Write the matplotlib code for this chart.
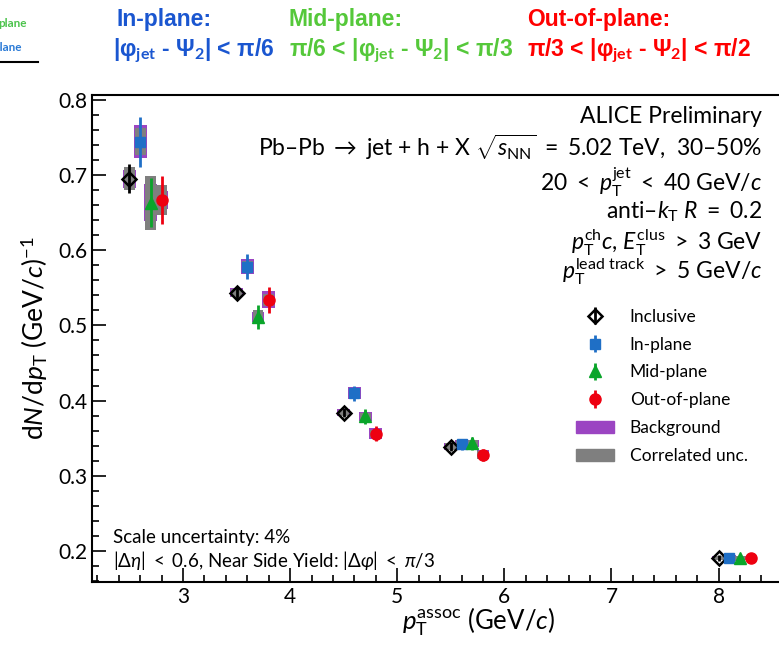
import numpy as np
import matplotlib
matplotlib.use("Agg")
import matplotlib.pyplot as plt
from matplotlib.patches import Patch

plt.rcParams['font.family'] = ['Lato', 'DejaVu Sans']
plt.rcParams['mathtext.fontset'] = 'custom'
plt.rcParams['mathtext.rm'] = 'Lato'
plt.rcParams['mathtext.it'] = 'Lato:italic'
plt.rcParams['mathtext.bf'] = 'Lato:bold'
plt.rcParams['mathtext.sf'] = 'Lato'

# data
x_incl = [2.5, 3.5, 4.5, 5.5, 8.0]
x_in = [2.6, 3.6, 4.6, 5.6, 8.1]
x_mid = [2.7, 3.7, 4.7, 5.7, 8.2]
x_out = [2.8, 3.8, 4.8, 5.8, 8.3]

y_incl = [0.695, 0.543, 0.384, 0.339, 0.191]
y_in = [0.744, 0.578, 0.410, 0.342, 0.191]
y_mid = [0.663, 0.511, 0.379, 0.343, 0.191]
y_out = [0.666, 0.534, 0.356, 0.328, 0.191]

stat_incl = [0.019, 0.008, 0.006, 0.006, 0.004]
stat_in = [0.033, 0.017, 0.010, 0.007, 0.004]
stat_mid = [0.033, 0.016, 0.010, 0.008, 0.004]
stat_out = [0.032, 0.017, 0.010, 0.008, 0.004]

bkg_incl = [0.012, 0.006, 0.005, 0.005, 0.003]
bkg_in = [0.022, 0.010, 0.008, 0.006, 0.004]
bkg_mid = [0.025, 0.007, 0.006, 0.005, 0.003]
bkg_out = [0.012, 0.011, 0.007, 0.006, 0.003]

corr_incl = [0.015, 0.005, 0.004, 0.004, 0.003]
corr_in = [0.018, 0.008, 0.006, 0.005, 0.003]
corr_mid = [0.036, 0.009, 0.005, 0.004, 0.003]
corr_out = [0.020, 0.008, 0.005, 0.005, 0.003]

c_in = '#1f6fc6'
c_mid = '#0aa52a'
c_out = '#ee0010'
c_bkg = '#9b45c2'
c_corr = '#7f7f7f'

fig = plt.figure(figsize=(7.79, 6.45), dpi=100)
ax = fig.add_axes([0.118, 0.0977, 0.887, 0.755])

series = [
    (x_incl, y_incl, stat_incl, bkg_incl, corr_incl),
    (x_in, y_in, stat_in, bkg_in, corr_in),
    (x_mid, y_mid, stat_mid, bkg_mid, corr_mid),
    (x_out, y_out, stat_out, bkg_out, corr_out),
]
bw = 0.12
for xs, ys, st, bk, co in series:
    xs = np.array(xs); ys = np.array(ys); bk = np.array(bk); co = np.array(co)
    ax.bar(xs, 2 * bk, bottom=ys - bk, width=bw, color=c_bkg, zorder=1)
    ax.bar(xs, 2 * co, bottom=ys - co, width=bw * 0.85, color=c_corr, zorder=2)

h_incl = ax.errorbar(x_incl, y_incl, yerr=stat_incl, fmt='D', color='black', mfc='none',
                     mec='black', mew=1.8, ms=7, elinewidth=2, capsize=0, zorder=5)
h_in = ax.errorbar(x_in, y_in, yerr=stat_in, fmt='s', color=c_in, ms=7.5,
                   elinewidth=2, capsize=0, zorder=5)
h_mid = ax.errorbar(x_mid, y_mid, yerr=stat_mid, fmt='^', color=c_mid, ms=8.5,
                    elinewidth=2, capsize=0, zorder=5)
h_out = ax.errorbar(x_out, y_out, yerr=stat_out, fmt='o', color=c_out, ms=8,
                    elinewidth=2, capsize=0, zorder=5)

ax.set_xlim(2.15, 8.6)
ax.set_ylim(0.159, 0.806)
ax.set_xticks([3, 4, 5, 6, 7, 8])
ax.set_yticks([0.2, 0.3, 0.4, 0.5, 0.6, 0.7, 0.8])
ax.set_xticks(np.arange(2.2, 8.61, 0.2), minor=True)
ax.set_yticks(np.arange(0.16, 0.81, 0.02), minor=True)
ax.tick_params(which='both', direction='in', top=False, right=False, labelsize=15, width=1.2)
ax.tick_params(which='major', length=10)
ax.tick_params(which='minor', length=5)
for s in ax.spines.values():
    s.set_linewidth(1.5)

ax.set_xlabel(r"$p_{\rm T}^{\rm assoc}$ (GeV/$c$)", fontsize=18.5, x=0.56, labelpad=-1)
ax.set_ylabel(r"d$N$/d$p_{\rm T}$ (GeV/$c$)$^{-1}$", fontsize=19, labelpad=6)

lines = [
    "ALICE Preliminary",
    r"Pb–Pb $\rightarrow$ jet + h + X $\sqrt{s_{\rm NN}}\ =\ $5.02 TeV,  30–50%",
    r"$20\ <\ p_{\rm T}^{\rm jet}\ <\ 40$ GeV$/c$",
    r"anti–$k_{\rm T}$ $R\ =\ 0.2$",
    r"$p_{\rm T}^{\rm ch}c$, $E_{\rm T}^{\rm clus}\ >\ 3$ GeV",
    r"$p_{\rm T}^{\rm lead\ track}\ >\ 5$ GeV$/c$",
]
ys_txt = [0.955, 0.893, 0.821, 0.760, 0.696, 0.637]
for t, yy in zip(lines, ys_txt):
    ax.text(0.97, yy, t, transform=ax.transAxes, ha='right', va='center', fontsize=16.5)

ax.text(0.03, 0.092, "Scale uncertainty: 4%", transform=ax.transAxes, fontsize=13.5, va='center')
ax.text(0.03, 0.045,
        r"$|\Delta\eta|\ <\ 0.6$, Near Side Yield: $|\Delta\varphi|\ <\ \pi/3$",
        transform=ax.transAxes, fontsize=13.5, va='center')

handles = [h_incl, h_in, h_mid, h_out, Patch(color=c_bkg), Patch(color=c_corr)]
labels = ["Inclusive", "In-plane", "Mid-plane", "Out-of-plane", "Background", "Correlated unc."]
ax.legend(handles, labels, loc='upper left', bbox_to_anchor=(0.678, 0.593), frameon=False,
          fontsize=12.5, handlelength=2.2, labelspacing=0.68, handletextpad=0.9)

# header
hdr = dict(fontsize=16.5, fontweight='bold', family=['Liberation Sans', 'DejaVu Sans'])
fig.text(117 / 779, 1 - 26 / 645, "In-plane:", color='#1a56d0', **hdr)
fig.text(113 / 779, 1 - 56 / 645, r"|φ$_{\mathbf{jet}}$ - Ψ$_{\mathbf{2}}$| < π/6", color='#1a56d0', **hdr)
fig.text(289 / 779, 1 - 26 / 645, "Mid-plane:", color='#55c83a', **hdr)
fig.text(289 / 779, 1 - 56 / 645, r"π/6 < |φ$_{\mathbf{jet}}$ - Ψ$_{\mathbf{2}}$| < π/3", color='#55c83a', **hdr)
fig.text(527 / 779, 1 - 26 / 645, "Out-of-plane:", color='#ff0000', **hdr)
fig.text(527 / 779, 1 - 56 / 645, r"π/3 < |φ$_{\mathbf{jet}}$ - Ψ$_{\mathbf{2}}$| < π/2", color='#ff0000', **hdr)

# cut-off fragments at the top left
fig.text(-2 / 779, 1 - 27 / 645, "plane", color='#4cc34c', fontsize=8.5, fontweight='bold')
fig.text(-7 / 779, 1 - 51 / 645, "plane", color='#2a7ad6', fontsize=8.5, fontweight='bold')
fig.add_artist(plt.Line2D([0, 38 / 779], [1 - 62 / 645, 1 - 62 / 645], color='black', lw=1.5))

fig.savefig("out.png", dpi=100)
